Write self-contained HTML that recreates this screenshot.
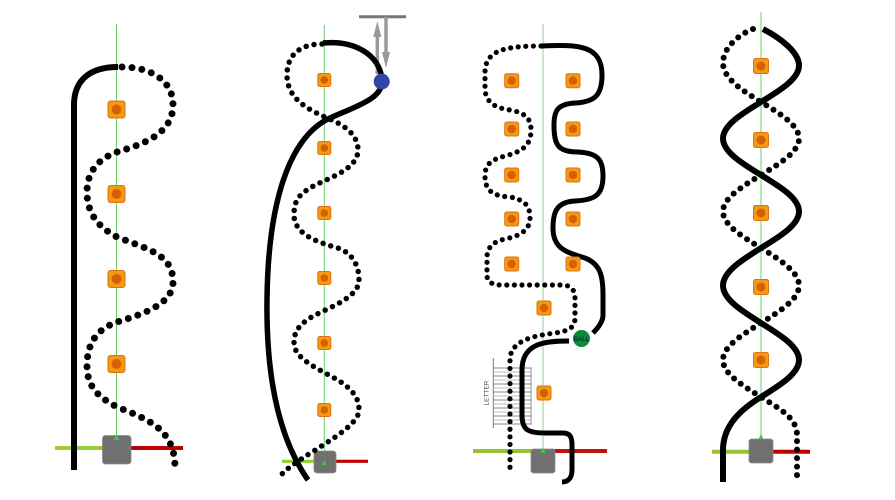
<!DOCTYPE html>
<html><head><meta charset="utf-8"><style>
html,body{margin:0;padding:0;background:#fff;}
svg{display:block;}
</style></head><body>
<svg width="895" height="500" viewBox="0 0 895 500" xmlns="http://www.w3.org/2000/svg">
<defs>
<g id="sq17"><rect x="-8.5" y="-8.5" width="17" height="17" rx="2.5" fill="#f39a14" stroke="#e07010" stroke-width="1"/><circle r="5" fill="#d65f00"/></g>
<g id="sq13"><rect x="-6.5" y="-6.5" width="13" height="13" rx="2" fill="#f39a14" stroke="#e07010" stroke-width="1"/><circle r="3.8" fill="#d65f00"/></g>
<g id="sq14"><rect x="-7" y="-7" width="14" height="14" rx="2" fill="#f39a14" stroke="#e07010" stroke-width="1"/><circle r="4.2" fill="#d65f00"/></g>
<g id="sq15"><rect x="-7.5" y="-7.5" width="15" height="15" rx="2" fill="#f39a14" stroke="#e07010" stroke-width="1"/><circle r="4.5" fill="#d65f00"/></g>
</defs>

<!-- ================= PANEL 1 ================= -->
<line x1="116.5" y1="24" x2="116.5" y2="438" stroke="#6ccf6c" stroke-width="1"/>
<line x1="55" y1="448" x2="103" y2="448" stroke="#96cf2e" stroke-width="4"/>
<line x1="130" y1="448" x2="183" y2="448" stroke="#c00000" stroke-width="4"/>
<rect x="102.5" y="435.5" width="28.5" height="28.5" rx="3" fill="#707070" stroke="#8a8a8a" stroke-width="0.8"/>
<polygon points="116.5,434 113.5,440 119.5,440" fill="#4cbf4c"/>
<path d="M74,470 L74,105 C74,80 90,67 118,67" fill="none" stroke="#000" stroke-width="6"/>
<path d="M122,67 C150,67 173,80 173,105 C173,135 140,145 117,152 C95,160 87,175 87,192 C87,215 100,228 117,237 C150,250 173,255 173,282 C173,305 140,315 117,322 C95,330 87,345 87,366 C87,388 100,398 117,407 C150,420 175,430 175,468" fill="none" stroke="#000" stroke-width="7" stroke-linecap="round" stroke-dasharray="0 10"/>
<use href="#sq17" x="116.5" y="109.5"/>
<use href="#sq17" x="116.5" y="194"/>
<use href="#sq17" x="116.5" y="279"/>
<use href="#sq17" x="116.5" y="364"/>

<!-- ================= PANEL 2 ================= -->
<line x1="324.3" y1="25" x2="324.3" y2="462" stroke="#6ccf6c" stroke-width="1"/>
<line x1="282" y1="461.3" x2="315" y2="461.3" stroke="#96cf2e" stroke-width="3.2"/>
<line x1="335" y1="461.3" x2="368" y2="461.3" stroke="#c00000" stroke-width="3.2"/>
<rect x="314" y="451" width="22" height="22" rx="3" fill="#707070" stroke="#8a8a8a" stroke-width="0.8"/>
<polygon points="324.3,460 321.8,465 326.8,465" fill="#4cbf4c"/>
<line x1="359" y1="16.7" x2="406" y2="16.7" stroke="#777" stroke-width="3"/>
<line x1="377.3" y1="74" x2="377.3" y2="34" stroke="#9a9a9a" stroke-width="3.5"/>
<polygon points="377.3,21 373.3,37 381.3,37" fill="#9a9a9a"/>
<line x1="386" y1="17" x2="386" y2="55" stroke="#9a9a9a" stroke-width="3.5"/>
<polygon points="386,68 382,52 390,52" fill="#9a9a9a"/>
<path d="M323,43 C355,40 380,55 382,80 C384,100 350,108 326,120 C290,140 268,200 267,300 C266,380 280,440 308,480" fill="none" stroke="#000" stroke-width="5.5"/>
<path d="M322,44 C300,44 287,55 287,75 C287,100 310,110 327,118 C345,125 358,135 358,150 C358,172 320,180 307,190 C296,197 294,205 294,215 C294,235 320,243 338,248 C352,253 359,265 359,280 C359,300 320,310 307,320 C296,328 294,335 294,343 C294,362 330,373 345,385 C355,393 359,400 359,410 C359,430 300,455 282,474" fill="none" stroke="#000" stroke-width="5.5" stroke-linecap="round" stroke-dasharray="0 8"/>
<circle cx="381.7" cy="81.5" r="8" fill="#3246a4"/>
<use href="#sq13" x="324.3" y="80"/>
<use href="#sq13" x="324.3" y="148"/>
<use href="#sq13" x="324.3" y="213"/>
<use href="#sq13" x="324.3" y="278"/>
<use href="#sq13" x="324.3" y="343"/>
<use href="#sq13" x="324.3" y="410"/>

<!-- ================= PANEL 3 ================= -->
<line x1="543" y1="24" x2="543" y2="450" stroke="#b0d8b0" stroke-width="1.3"/>
<line x1="473" y1="451" x2="532" y2="451" stroke="#96c232" stroke-width="4"/>
<line x1="554" y1="451" x2="607" y2="451" stroke="#c01010" stroke-width="4"/>
<rect x="531" y="449" width="24" height="24" rx="2.5" fill="#707070" stroke="#8a8a8a" stroke-width="0.8"/>
<polygon points="543,447.5 540,453 546,453" fill="#4cbf4c"/>
<!-- ladder -->
<g stroke-width="1">
<line x1="493.3" y1="358" x2="493.3" y2="428" stroke="#777"/>
<line x1="531" y1="368" x2="531" y2="424" stroke="#999"/>
<line x1="493" y1="368" x2="532" y2="368" stroke="#888"/>
<line x1="493" y1="372" x2="532" y2="372" stroke="#bbb"/>
<line x1="493" y1="376" x2="532" y2="376" stroke="#888"/>
<line x1="493" y1="380" x2="532" y2="380" stroke="#bbb"/>
<line x1="493" y1="384" x2="532" y2="384" stroke="#888"/>
<line x1="493" y1="388" x2="532" y2="388" stroke="#bbb"/>
<line x1="493" y1="392" x2="532" y2="392" stroke="#888"/>
<line x1="493" y1="396" x2="532" y2="396" stroke="#bbb"/>
<line x1="493" y1="400" x2="532" y2="400" stroke="#888"/>
<line x1="493" y1="404" x2="532" y2="404" stroke="#bbb"/>
<line x1="493" y1="408" x2="532" y2="408" stroke="#888"/>
<line x1="493" y1="412" x2="532" y2="412" stroke="#bbb"/>
<line x1="493" y1="416" x2="532" y2="416" stroke="#888"/>
<line x1="493" y1="420" x2="532" y2="420" stroke="#bbb"/>
<line x1="493" y1="424" x2="532" y2="424" stroke="#888"/>
</g>
<text x="0" y="0" transform="translate(488.5,393) rotate(-90)" font-family="Liberation Sans, sans-serif" font-size="6.5" fill="#555" text-anchor="middle">LETTER</text>
<path d="M542,46 C580,44 602,46 602,75 C602,95 595,102 575,103 C558,104 554,110 554,125 C554,145 558,152 578,152 C598,153 603,160 603,176 C603,195 595,200 575,201 C558,202 553,210 553,228 C553,248 565,252 585,258 C600,264 603,275 603,295 L603,315 C603,322 598,328 593,333" fill="none" stroke="#000" stroke-width="5"/>
<path d="M569,341 C545,341 522,343 522,370 L522,415 C522,430 528,433 545,433 L563,433 C570,433 572,437 572,445 L572,470 C572,478 568,482 562,482" fill="none" stroke="#000" stroke-width="5"/>
<path d="M541,46 C505,46 485,50 485,73 L485,88 C485,102 495,108 510,110 C527,113 531,120 531,130 C531,147 520,152 505,156 C490,160 485,165 485,176 C485,190 492,196 510,197 C526,200 530,207 530,218 C530,230 520,236 505,239 C492,242 487,248 487,258 L487,275 C487,282 492,285 502,285 L562,285 C571,285 575,290 575,298 L575,318 C575,328 568,331 555,333 C530,336 510,342 510,360 L510,474" fill="none" stroke="#000" stroke-width="5.2" stroke-linecap="round" stroke-dasharray="0 7.6"/>
<circle cx="581.5" cy="338.5" r="8.5" fill="#0b8a3c"/>
<text x="581.5" y="340.8" font-family="Liberation Sans, sans-serif" font-size="6.2" fill="#012" text-anchor="middle">BALL</text>
<use href="#sq14" x="511.7" y="80.7"/>
<use href="#sq14" x="573" y="80.7"/>
<use href="#sq14" x="511.7" y="129"/>
<use href="#sq14" x="573" y="129"/>
<use href="#sq14" x="511.7" y="175"/>
<use href="#sq14" x="573" y="175"/>
<use href="#sq14" x="511.7" y="219"/>
<use href="#sq14" x="573" y="219"/>
<use href="#sq14" x="511.7" y="264"/>
<use href="#sq14" x="573" y="264"/>
<use href="#sq14" x="544" y="308"/>
<use href="#sq14" x="544" y="393"/>

<!-- ================= PANEL 4 ================= -->
<line x1="761" y1="12" x2="761" y2="438" stroke="#6ccf6c" stroke-width="1"/>
<line x1="712" y1="451.7" x2="750" y2="451.7" stroke="#96c232" stroke-width="4"/>
<line x1="772" y1="451.7" x2="810" y2="451.7" stroke="#c00000" stroke-width="4"/>
<rect x="749" y="439" width="24" height="24" rx="2.5" fill="#707070" stroke="#8a8a8a" stroke-width="0.8"/>
<polygon points="761,434 758.5,439 763.5,439" fill="#4cbf4c"/>
<path d="M763,29 C780.5,38 799,52.3 799,65.5 C799,78.7 780.5,90.1 761,102 C741.5,113.9 723,125.3 723,138.5 C723,151.7 741.5,163.1 761,175 C780.5,186.9 799,198.3 799,211.5 C799,224.7 780.5,236.1 761,248 C741.5,260.2 723,271.9 723,285.5 C723,299.1 741.5,310.8 761,323 C780.5,335.1 799,346.6 799,360 C799,373.4 780.5,384.9 761,397 C741.5,409 723,425 723,450 L723,482" fill="none" stroke="#000" stroke-width="6"/>
<path d="M753,29 C738,35 723,48 723,63 C723,78 741.5,90 761,102 C780.5,113.9 799,125.3 799,138.5 C799,151.7 780.5,163.1 761,175 C741.5,186.9 723,198.3 723,211.5 C723,224.7 741.5,236.1 761,248 C780.5,260.2 799,271.9 799,285.5 C799,299.1 780.5,310.8 761,323 C741.5,335.1 723,346.6 723,360 C723,373.4 741.5,384.9 761,397 C780,409 797,418 797,435 L797,483" fill="none" stroke="#000" stroke-width="6" stroke-linecap="round" stroke-dasharray="0 8.5"/>
<use href="#sq15" x="761" y="66"/>
<use href="#sq15" x="761" y="140"/>
<use href="#sq15" x="761" y="213"/>
<use href="#sq15" x="761" y="287"/>
<use href="#sq15" x="761" y="360"/>
</svg>
</body></html>
